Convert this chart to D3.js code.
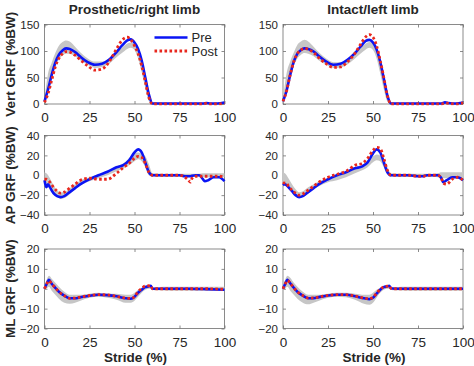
<!DOCTYPE html>
<html>
<head>
<meta charset="utf-8">
<script src="https://cdn.jsdelivr.net/npm/d3@7"></script>
<style>
	body { margin: 0; background: #fff; }
	svg { display: block; font-family: Arial, 'Liberation Sans', sans-serif; }
	.tick text { fill: #262626; }
</style>
</head>
<body>
<script>

// stride samples (% of stride) for each row of panels
var strideV = [ 0, 2, 4, 6, 8, 10, 12, 14, 17, 20, 24, 28, 32, 36, 40, 43, 46, 48, 50, 52, 54, 56, 58, 60, 70, 80, 88, 90, 92, 96, 100 ];
var strideA = [ 0, 1, 2, 3, 5, 7, 9, 11, 14, 17, 20, 25, 30, 35, 40, 44, 47, 50, 52, 54, 56, 58, 60, 65, 70, 75, 78, 80, 81, 82, 84, 86, 88, 89, 91, 94, 97, 100 ];
var strideM = [ 0, 1, 2.5, 4, 6, 8, 11, 14, 17, 20, 25, 30, 35, 40, 45, 48, 50, 52, 54, 56, 58, 59, 60, 62, 70, 80, 90, 100 ];

// Vertical GRF (%BW)
var prosVertPre  = [ 5, 28, 55, 78, 93, 101, 105, 104, 98, 89, 79, 74, 76, 84, 98, 110, 120, 122, 116, 104, 82, 50, 18, 1, 1, 1, 1, 2, 1, 1, 3 ];
var prosVertPost = [ 3, 20, 45, 70, 86, 95, 99, 98, 92, 83, 72, 64, 66, 80, 104, 120, 126, 121, 110, 95, 72, 42, 12, 0, 0, 0, 0, 1, 0, 0, 1 ];
var prosVertLo   = [ 0, 22, 48, 70, 84, 92, 95, 95, 90, 82, 74, 68, 70, 76, 88, 96, 104, 106, 102, 86, 60, 30, 5, 0, 0, 0, 0, 0, 0, 0, 0 ];
var prosVertHi   = [ 8, 58, 78, 96, 110, 117, 120, 118, 108, 97, 86, 80, 80, 86, 98, 106, 114, 116, 114, 104, 85, 58, 25, 3, 1.5, 1.5, 1.5, 1.5, 1.5, 1.5, 1.5 ];

var intVertPre  = [ 5, 25, 55, 80, 95, 102, 105, 104, 99, 90, 80, 74, 76, 84, 96, 108, 119, 121, 116, 103, 80, 48, 16, 1, 1, 1, 1, 3, 2, 1, 3 ];
var intVertPost = [ 5, 25, 55, 80, 95, 102, 105, 103, 97, 87, 76, 69, 70, 80, 96, 112, 127, 131, 126, 110, 82, 50, 16, 0, 0, 0, 0, 2, 1, 0, 2 ];
var intVertLo   = [ 0, 22, 48, 72, 86, 93, 96, 95, 90, 82, 74, 68, 69, 75, 86, 95, 103, 106, 102, 86, 58, 28, 5, 0, 0, 0, 0, 0, 0, 0, 0 ];
var intVertHi   = [ 8, 58, 80, 97, 112, 118, 121, 118, 108, 97, 86, 79, 79, 85, 97, 106, 114, 117, 115, 104, 84, 55, 22, 3, 1.5, 1.5, 1.5, 1.5, 1.5, 1.5, 1.5 ];

// Anterior-posterior GRF (%BW)
var prosApPre  = [ -5, -12, -9, -12, -18, -21, -22, -21, -17, -13, -9, -4, 0, 3.5, 8, 10.5, 15, 23, 26, 23, 13, 3, 0, 0, 0, 0, -1, -1, -1, -0.5, 0, 0, -4, -6, -5, -2, -2, -6 ];
var prosApPost = [ -4, -4, -5, -7, -12, -16, -18, -17, -13, -9, -5, -3, -4, -4, 2, 8, 12, 17, 19, 18, 12, 3, 0, 0, 0, 0, -2, -5, -7, -3, -1, -1, -1, -1, -1, -1, -1, -2 ];
var prosApLo   = [ -10, -12, -12, -13, -18, -22, -24, -23, -19, -14, -10, -6, -3, 0, 4, 7, 10, 14, 16, 14, 8, 0, -1, -1.5, -1.5, -1.5, -1.5, -1.5, -1.5, -1.5, -1.5, -1.5, -2, -2, -2, -2, -2, -2 ];
var prosApHi   = [ 3, 2, 0, -3, -10, -15, -17, -17, -13, -9, -5, -2, 1, 4, 9, 12, 17, 22, 23, 22, 19, 11, 2, 1.5, 1.5, 1.5, 1.5, 1.5, 1.5, 1.5, 1.5, 1.5, 2, 2, 2, 2, 2, 2 ];

var intApPre  = [ -10, -9, -10, -12, -16, -20, -22, -21, -17, -13, -9, -4, 0, 3, 7, 9, 13, 22, 26, 23, 13, 3, 0, 0, 0, -1, -1, 0, 0, 0, 0, 0, -3, -7, -5, -2, -2, -5 ];
var intApPost = [ -7, -8, -8, -11, -15, -18, -20, -19, -15, -11, -7, -2, 1, 4, 10, 12, 17, 25, 28, 27, 17, 5, 0, 0, 0, -1, -1, 0, 0, 0, 0, 0, -3, -8, -9, -4, -2, -5 ];
var intApLo   = [ -5, -8, -10, -13, -17, -21, -23, -22, -18, -14, -11, -7, -5, -2, 2, 5, 8, 13, 15, 14, 8, 1, -1, -1.5, -1.5, -1.5, -1.5, -1.5, -1.5, -1.5, -1.5, -2, -3, -3, -3, -3, -3, -3 ];
var intApHi   = [ 3, 2, 0, -3, -9, -14, -17, -16, -12, -9, -6, -3, -1, 2, 6, 10, 14, 19, 21, 20, 16, 8, 2, 1.5, 1.5, 1.5, 1.5, 1.5, 1.5, 1.5, 1.5, 2, 3, 3, 3, 3, 3, 3 ];

// Medio-lateral GRF (%BW)
var prosMlPre  = [ 0, 2, 4.5, 2.5, 0.5, -1.5, -3.5, -4.8, -4.8, -4.3, -3.5, -3, -3.2, -3.8, -4.8, -5, -4, -2, -0.5, 0.8, 1.2, 1.5, 0, 0, 0, 0, -0.2, -0.5 ];
var prosMlPost = [ 0, 2, 4, 2.5, 0.5, -1.5, -3.5, -4.8, -4.7, -4.2, -3.4, -3, -3.1, -3.8, -4.7, -4.9, -4, -1.5, 0.2, 1.4, 1.5, 1.6, 0, 0, 0, 0, 0, -0.3 ];
var prosMlLo   = [ -0.5, 0, 1, -1, -3, -5, -7, -7.5, -7, -6, -4.5, -4, -4.5, -5.5, -7, -7, -6, -4, -2, -0.5, 0, 0, -0.5, -0.8, -1, -1, -1, -1 ];
var prosMlHi   = [ 1, 4, 6.5, 5, 3, 1, -1.5, -3, -3, -3, -2.5, -2, -2.5, -2.5, -3, -3, -2, -0.5, 0.5, 1.5, 1.8, 1.8, 0.5, 0.8, 1, 1, 1, 1 ];

var intMlPre  = [ 0, 2, 4.5, 2.8, 0.5, -1.5, -3.5, -4.8, -4.7, -4.2, -3.4, -3, -3, -3.8, -4.8, -5.2, -4.5, -2.5, -0.5, 0.8, 1.2, 1.5, 0.2, 0, 0, 0, 0, 0 ];
var intMlPost = [ 0, 2, 4.2, 2.8, 0.5, -1.5, -3.4, -4.7, -4.6, -4.1, -3.3, -3, -3, -3.7, -4.7, -5, -4.3, -2.3, -0.3, 1, 1.3, 1.5, 0.2, 0, 0, 0, 0, 0 ];
var intMlLo   = [ -0.5, 0, 1, -1, -3, -5, -7, -7.8, -7, -6, -4.5, -4, -4.3, -5.5, -7.5, -8, -7, -4.5, -2, -0.5, 0, 0, -0.5, -0.8, -1, -1, -1, -1 ];
var intMlHi   = [ 1, 4, 6.5, 5.5, 3, 1, -1.5, -3, -3, -3, -2.5, -2, -2, -2.5, -3, -3, -2, -0.5, 0.5, 1.5, 1.8, 1.8, 0.5, 0.8, 1, 1, 1, 1 ];

var xTicks = [ 0, 25, 50, 75, 100 ];
var colTitles = [ 'Prosthetic/right limb', 'Intact/left limb' ];
var rowLabels = [ 'Vert GRF (%BW)', 'AP GRF (%BW)', 'ML GRF (%BW)' ];
var rowDomains = [ [ 0, 150 ], [ -40, 40 ], [ -20, 20 ] ];
var rowTicks = [ [ 0, 50, 100, 150 ], [ -40, -20, 0, 20, 40 ], [ -20, -10, 0, 10, 20 ] ];
var legendNames = [ 'Pre', 'Post' ];

var colors = {
	pre: '#0a14f5',
	post: '#e8281e',
	band: '#c6c6c6',
	axis: '#6e6e6e',
	text: '#262626'
};

var panels = [
	[ { x: strideV, pre: prosVertPre, post: prosVertPost, lo: prosVertLo, hi: prosVertHi },
	  { x: strideV, pre: intVertPre, post: intVertPost, lo: intVertLo, hi: intVertHi } ],
	[ { x: strideA, pre: prosApPre, post: prosApPost, lo: prosApLo, hi: prosApHi },
	  { x: strideA, pre: intApPre, post: intApPost, lo: intApLo, hi: intApHi } ],
	[ { x: strideM, pre: prosMlPre, post: prosMlPost, lo: prosMlLo, hi: prosMlHi },
	  { x: strideM, pre: intMlPre, post: intMlPost, lo: intMlLo, hi: intMlHi } ]
];

var width = 474;
var height = 366;

var layout = {
	colX: [ 44.5, 283 ],
	rowY: [ 24.5, 135.5, 249 ],
	pw: 180,
	ph: 79.5
};

var els = {};

els.svg = d3.select( 'body' ).append( 'svg' )
	.attr( 'width', width )
	.attr( 'height', height );

// lines may spill a little over the axes, like the original
var defs = els.svg.append( 'defs' );
defs.append( 'clipPath' ).attr( 'id', 'plot-clip' )
	.append( 'rect' )
	.attr( 'x', -1.5 )
	.attr( 'y', -1.5 )
	.attr( 'width', layout.pw + 3 )
	.attr( 'height', layout.ph + 3 );

var scales = {};
scales.x = d3.scaleLinear().domain( [ 0, 100 ] ).range( [ 0, layout.pw ] );

var drawPanel = function ( rowIndex, colIndex ) {
	var p = panels[rowIndex][colIndex];
	var y = d3.scaleLinear().domain( rowDomains[rowIndex] ).range( [ layout.ph, 0 ] );

	var g = els.svg.append( 'g' )
		.attr( 'transform', 'translate(' + layout.colX[colIndex] + ',' + layout.rowY[rowIndex] + ')' );

	var axes = {
		bottom: d3.axisBottom( scales.x ).tickValues( xTicks ).tickSizeInner( -3 ).tickSizeOuter( 0 ).tickPadding( 8.5 ),
		top: d3.axisTop( scales.x ).tickValues( xTicks ).tickSizeInner( -3 ).tickSizeOuter( 0 ).tickFormat( '' ),
		left: d3.axisLeft( y ).tickValues( rowTicks[rowIndex] ).tickSizeInner( -3 ).tickSizeOuter( 0 ).tickPadding( 5 ),
		right: d3.axisRight( y ).tickValues( rowTicks[rowIndex] ).tickSizeInner( -3 ).tickSizeOuter( 0 ).tickFormat( '' )
	};

	var xb = g.append( 'g' ).attr( 'transform', 'translate(0,' + layout.ph + ')' ).call( axes.bottom );
	g.append( 'g' ).call( axes.top );
	var yl = g.append( 'g' ).call( axes.left );
	g.append( 'g' ).attr( 'transform', 'translate(' + layout.pw + ',0)' ).call( axes.right );

	g.selectAll( '.domain' ).remove();
	g.selectAll( '.tick line' ).style( 'stroke', colors.axis ).style( 'stroke-width', 0.8 );
	xb.selectAll( 'text' ).style( 'font-size', '13.5px' );
	yl.selectAll( 'text' ).style( 'font-size', '11.5px' );

	g.append( 'rect' )
		.attr( 'width', layout.pw )
		.attr( 'height', layout.ph )
		.style( 'fill', 'none' )
		.style( 'stroke', colors.axis )
		.style( 'stroke-width', 0.8 );

	var plot = g.append( 'g' ).attr( 'clip-path', 'url(#plot-clip)' );

	var band = d3.area()
		.x( function ( d, i ) { return scales.x( p.x[i] ); } )
		.y0( function ( d, i ) { return y( p.lo[i] ); } )
		.y1( function ( d, i ) { return y( p.hi[i] ); } )
		.curve( d3.curveMonotoneX );

	var line = d3.line()
		.x( function ( d, i ) { return scales.x( p.x[i] ); } )
		.y( function ( d ) { return y( d ); } )
		.curve( d3.curveMonotoneX );

	plot.append( 'path' )
		.datum( p.lo )
		.attr( 'd', band )
		.style( 'fill', colors.band );

	plot.append( 'path' )
		.datum( p.pre )
		.attr( 'd', line )
		.style( 'fill', 'none' )
		.style( 'stroke', colors.pre )
		.style( 'stroke-width', 2.6 );

	plot.append( 'path' )
		.datum( p.post )
		.attr( 'd', line )
		.style( 'fill', 'none' )
		.style( 'stroke', colors.post )
		.style( 'stroke-width', 2.8 )
		.style( 'stroke-dasharray', '2.6,2.4' );

	if ( colIndex === 0 ) {
		g.append( 'text' )
			.attr( 'transform', 'translate(' + ( 14.5 - layout.colX[0] ) + ',' + ( layout.ph / 2 ) + ') rotate(-90)' )
			.attr( 'text-anchor', 'middle' )
			.style( 'font-size', '13.5px' )
			.style( 'font-weight', 'bold' )
			.style( 'fill', colors.text )
			.text( rowLabels[rowIndex] );
	}

	if ( rowIndex === 0 ) {
		g.append( 'text' )
			.attr( 'x', layout.pw / 2 )
			.attr( 'y', 13.5 - layout.rowY[0] )
			.attr( 'text-anchor', 'middle' )
			.style( 'font-size', '13.5px' )
			.style( 'font-weight', 'bold' )
			.style( 'fill', colors.text )
			.text( colTitles[colIndex] );
	}

	if ( rowIndex === 2 ) {
		g.append( 'text' )
			.attr( 'x', layout.pw / 2 + 1 )
			.attr( 'y', 361.5 - layout.rowY[2] )
			.attr( 'text-anchor', 'middle' )
			.style( 'font-size', '13.5px' )
			.style( 'font-weight', 'bold' )
			.style( 'fill', colors.text )
			.text( 'Stride (%)' );
	}

	if ( rowIndex === 0 && colIndex === 0 ) {
		var legend = g.append( 'g' ).attr( 'transform', 'translate(110,13)' );
		legendNames.forEach( function ( name, i ) {
			var row = legend.append( 'g' ).attr( 'transform', 'translate(0,' + ( i * 13.5 ) + ')' );
			row.append( 'line' )
				.attr( 'x1', 0 ).attr( 'x2', 33 )
				.style( 'stroke', i === 0 ? colors.pre : colors.post )
				.style( 'stroke-width', i === 0 ? 2.6 : 2.8 )
				.style( 'stroke-dasharray', i === 0 ? null : '2.6,2.4' );
			row.append( 'text' )
				.attr( 'x', 37 )
				.attr( 'dy', '0.35em' )
				.style( 'font-size', '13px' )
				.style( 'fill', colors.text )
				.text( name );
		} );
	}
};

rowLabels.forEach( function ( label, r ) {
	colTitles.forEach( function ( title, c ) {
		drawPanel( r, c );
	} );
} );

</script>
</body>
</html>
